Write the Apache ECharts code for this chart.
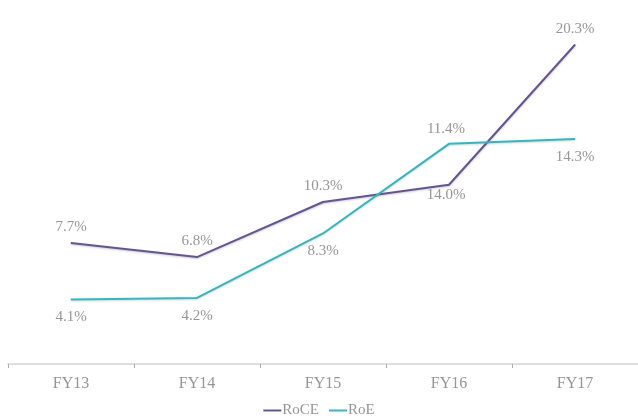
<!DOCTYPE html>
<html>
<head>
<meta charset="utf-8">
<script src="https://cdn.jsdelivr.net/npm/echarts@6/dist/echarts.min.js"></script>
<style>
  html, body { margin: 0; padding: 0; background: #fff; }
  #chart { width: 638px; height: 419px; }
</style>
</head>
<body>
<div id="chart"></div>
<script>
const years = ['FY13', 'FY14', 'FY15', 'FY16', 'FY17'];
const roce = [7.7, 6.8, 10.3, 11.4, 20.3];
const roe = [4.1, 4.2, 8.3, 14.0, 14.3];
// labels printed in the source chart (FY16 labels sit away from their points)
const roceLabels = ['7.7%', '6.8%', '10.3%', '11.4%', '20.3%'];
const roeLabels = ['4.1%', '4.2%', '8.3%', '14.0%', '14.3%'];

const font = 'Liberation Serif, DejaVu Serif, serif';
const textColor = '#969696';

function points(values, labels, shiftIdx, shiftY) {
  return values.map((v, i) => {
    const p = { value: v, label: { formatter: labels[i] } };
    if (i === shiftIdx) p.label.offset = [-3, shiftY];
    return p;
  });
}

const chart = echarts.init(document.getElementById('chart'));
chart.setOption({
  animation: false,
  grid: { left: 8, right: -3, top: 18, bottom: 55 },
  legend: {
    bottom: -4,
    left: 'center',
    itemWidth: 18,
    itemHeight: 2,
    itemGap: 10,
    icon: 'rect',
    textStyle: { color: textColor, fontFamily: font, fontSize: 15, padding: [0, 0, 0, -4] },
    data: ['RoCE', 'RoE']
  },
  xAxis: {
    type: 'category',
    data: years,
    boundaryGap: true,
    axisLine: { lineStyle: { color: '#d4d4d4', width: 1.5 } },
    axisTick: { show: true, length: 4, lineStyle: { color: '#aaaaaa' } },
    axisLabel: { color: textColor, fontFamily: font, fontSize: 16, margin: 12 }
  },
  yAxis: {
    type: 'value',
    min: 0,
    max: 22,
    show: false,
    splitLine: { show: false }
  },
  series: [
    {
      name: 'RoCE',
      type: 'line',
      data: points(roce, roceLabels, 3, -40),
      symbol: 'circle',
      symbolSize: 1,
      lineStyle: { color: '#65558f', width: 2, shadowColor: 'rgba(60,40,100,0.25)', shadowBlur: 2, shadowOffsetY: 1 },
      itemStyle: { color: '#65558f' },
      label: { show: true, position: 'top', distance: 8, color: textColor, fontFamily: font, fontSize: 15 }
    },
    {
      name: 'RoE',
      type: 'line',
      data: points(roe, roeLabels, 3, 33),
      symbol: 'circle',
      symbolSize: 1,
      lineStyle: { color: '#3bb3bd', width: 2, shadowColor: 'rgba(30,120,130,0.25)', shadowBlur: 2, shadowOffsetY: 1 },
      itemStyle: { color: '#3bb3bd' },
      label: { show: true, position: 'bottom', distance: 10, color: textColor, fontFamily: font, fontSize: 15 }
    }
  ]
});
</script>
</body>
</html>
